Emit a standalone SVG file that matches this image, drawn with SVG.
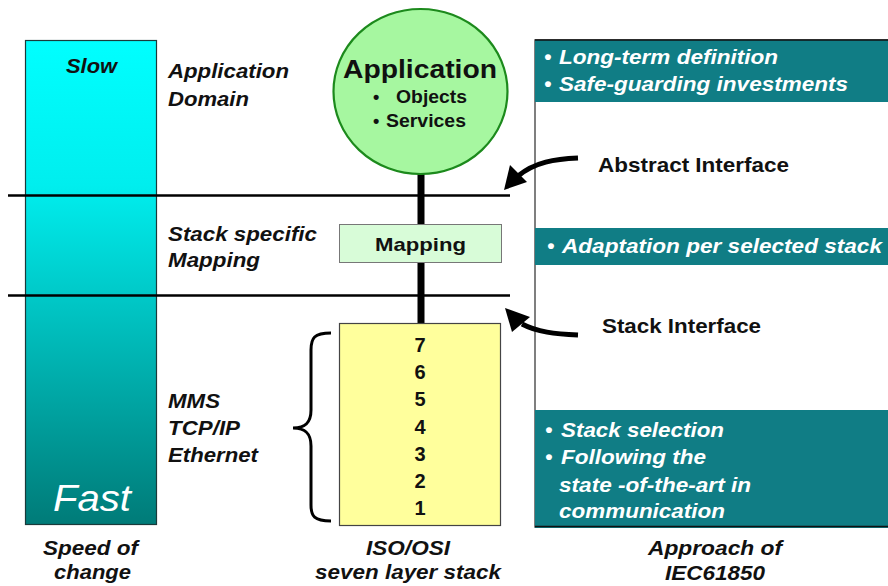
<svg xmlns="http://www.w3.org/2000/svg" width="888" height="586" viewBox="0 0 888 586">
<defs>
<linearGradient id="speed" x1="0" y1="0" x2="0" y2="1">
<stop offset="0" stop-color="#00FFFF"/>
<stop offset="0.3" stop-color="#00EEEE"/>
<stop offset="1" stop-color="#007B78"/>
</linearGradient>
<style>
text{font-family:"Liberation Sans",Arial,sans-serif;font-weight:bold;}
.lbl{font-style:italic;font-size:21px;fill:#111;}
.w{font-style:italic;font-size:21px;fill:#fff;}
.num{font-size:20px;text-anchor:middle;fill:#111;}
.ifc{font-size:21px;fill:#111;}
.sep{stroke:#000;stroke-width:2.5;}
.teal{fill:#107D85;}
.arr{fill:none;stroke:#000;stroke-width:5;}
</style>
</defs>
<g id="speed-bar">
<rect x="25.5" y="40.5" width="131" height="484" fill="url(#speed)" stroke="#1a3a3a" stroke-width="1.2"/>
<text x="66" y="73" class="lbl" textLength="51" lengthAdjust="spacingAndGlyphs">Slow</text>
<text x="53" y="511" textLength="78" lengthAdjust="spacingAndGlyphs" style="font-weight:normal;font-style:italic;font-size:37px;fill:#fff">Fast</text>
</g>
<g id="separators">
<line x1="8" y1="195.5" x2="510" y2="195.5" class="sep"/>
<line x1="8" y1="295.5" x2="510" y2="295.5" class="sep"/>
</g>
<g id="left-labels">
<text x="168" y="78" class="lbl" textLength="121" lengthAdjust="spacingAndGlyphs">Application</text>
<text x="168" y="106" class="lbl" textLength="81" lengthAdjust="spacingAndGlyphs">Domain</text>
<text x="168" y="241" class="lbl" textLength="149" lengthAdjust="spacingAndGlyphs">Stack specific</text>
<text x="168" y="267" class="lbl" textLength="92" lengthAdjust="spacingAndGlyphs">Mapping</text>
<text x="168" y="408" class="lbl" textLength="52" lengthAdjust="spacingAndGlyphs">MMS</text>
<text x="168" y="435" class="lbl" textLength="72" lengthAdjust="spacingAndGlyphs">TCP/IP</text>
<text x="168" y="462" class="lbl" textLength="90" lengthAdjust="spacingAndGlyphs">Ethernet</text>
</g>
<g id="approach-panel">
<rect x="535" y="40" width="360" height="487" fill="#fff" stroke="#555" stroke-width="1.5"/>
<rect x="535" y="40" width="360" height="62" class="teal"/>
<line x1="535" y1="40" x2="888" y2="40" stroke="#111" stroke-width="1.5"/>
<rect x="535" y="228" width="360" height="37" class="teal"/>
<rect x="535" y="410" width="360" height="118" class="teal"/>
<line x1="535" y1="526.5" x2="888" y2="526.5" stroke="#111" stroke-width="1.5"/>
<text x="544" y="64" class="w">•</text>
<text x="559" y="64" class="w" textLength="219" lengthAdjust="spacingAndGlyphs">Long-term definition</text>
<text x="544" y="91" class="w">•</text>
<text x="559" y="91" class="w" textLength="289" lengthAdjust="spacingAndGlyphs">Safe-guarding investments</text>
<text x="547" y="253" class="w">•</text>
<text x="562" y="253" class="w" textLength="320" lengthAdjust="spacingAndGlyphs">Adaptation per selected stack</text>
<text x="545" y="437" class="w">•</text>
<text x="561" y="437" class="w" textLength="163" lengthAdjust="spacingAndGlyphs">Stack selection</text>
<text x="545" y="464" class="w">•</text>
<text x="561" y="464" class="w" textLength="145" lengthAdjust="spacingAndGlyphs">Following the</text>
<text x="559" y="492" class="w" textLength="192" lengthAdjust="spacingAndGlyphs">state -of-the-art in</text>
<text x="559" y="518" class="w" textLength="166" lengthAdjust="spacingAndGlyphs">communication</text>
</g>
<g id="connectors">
<line x1="421" y1="172" x2="421" y2="324" stroke="#000" stroke-width="7"/>
<path d="M578,158 C555,159 535,162 518,176" class="arr"/>
<polygon points="504,190 510,165 527,182" fill="#000"/>
<path d="M578,335 C555,334 537,332 522,324" class="arr"/>
<polygon points="505,308 512,332 530,317" fill="#000"/>
</g>
<g id="application">
<ellipse cx="420.5" cy="91.5" rx="87" ry="82.5" fill="#A6F7A0" stroke="#1C8A1C" stroke-width="2.2"/>
<text x="343" y="78" textLength="154" lengthAdjust="spacingAndGlyphs" style="font-size:25px;fill:#111">Application</text>
<text x="373" y="103" style="font-size:18px;fill:#111">•</text>
<text x="396" y="103" textLength="71" lengthAdjust="spacingAndGlyphs" style="font-size:18px;fill:#111">Objects</text>
<text x="373" y="127" style="font-size:18px;fill:#111">•</text>
<text x="386" y="127" textLength="80" lengthAdjust="spacingAndGlyphs" style="font-size:18px;fill:#111">Services</text>
</g>
<g id="mapping">
<rect x="339.5" y="224.5" width="162" height="38" fill="#D8FCD8" stroke="#777" stroke-width="1"/>
<text x="375" y="251" textLength="91" lengthAdjust="spacingAndGlyphs" style="font-size:19px;fill:#111">Mapping</text>
</g>
<g id="osi-stack">
<rect x="339.5" y="323.5" width="161" height="202" fill="#FFFF9C" stroke="#444" stroke-width="1.2"/>
<text x="420" y="352" class="num">7</text>
<text x="420" y="379" class="num">6</text>
<text x="420" y="406" class="num">5</text>
<text x="420" y="434" class="num">4</text>
<text x="420" y="461" class="num">3</text>
<text x="420" y="488" class="num">2</text>
<text x="420" y="515" class="num">1</text>
</g>
<g id="brace">
<path d="M331,333 C314,333 311,338 311,350 L311,410 C311,422 306,428 293,428 C306,428 311,434 311,446 L311,505 C311,516 314,521 331,521" fill="none" stroke="#000" stroke-width="3"/>
</g>
<g id="interface-labels">
<text x="598" y="172" class="ifc" textLength="191" lengthAdjust="spacingAndGlyphs">Abstract Interface</text>
<text x="602" y="333" class="ifc" textLength="159" lengthAdjust="spacingAndGlyphs">Stack Interface</text>
</g>
<g id="bottom-labels">
<text x="43" y="555" class="lbl" textLength="95" lengthAdjust="spacingAndGlyphs">Speed of</text>
<text x="54" y="579" class="lbl" textLength="77" lengthAdjust="spacingAndGlyphs">change</text>
<text x="366" y="555" class="lbl" textLength="84" lengthAdjust="spacingAndGlyphs">ISO/OSI</text>
<text x="315" y="579" class="lbl" textLength="186" lengthAdjust="spacingAndGlyphs">seven layer stack</text>
<text x="648" y="555" class="lbl" textLength="134" lengthAdjust="spacingAndGlyphs">Approach of</text>
<text x="665" y="580" class="lbl" textLength="100" lengthAdjust="spacingAndGlyphs">IEC61850</text>
</g>
</svg>
